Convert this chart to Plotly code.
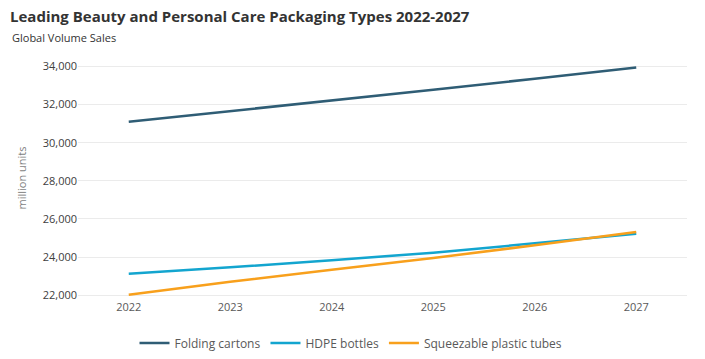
import plotly.graph_objects as go

years = ["2022", "2023", "2024", "2025", "2026", "2027"]
folding_cartons = [31100, 31650, 32200, 32780, 33360, 33950]
hdpe_bottles = [23120, 23460, 23840, 24230, 24720, 25230]
squeezable_tubes = [22020, 22700, 23330, 23950, 24620, 25320]
y_ticks = [22000, 24000, 26000, 28000, 30000, 32000, 34000]

series = [
    ("Folding cartons", folding_cartons, "#2f5d75"),
    ("HDPE bottles", hdpe_bottles, "#13a5cf"),
    ("Squeezable plastic tubes", squeezable_tubes, "#f8a01c"),
]

fig = go.Figure()
for name, vals, col in series:
    fig.add_trace(go.Scatter(x=years, y=vals, name=name, mode="lines",
                             line=dict(color=col, width=2.5)))

font = "Open Sans, Segoe UI, sans-serif"
fig.update_layout(
    width=705, height=359,
    margin=dict(l=78, r=18, t=57, b=60, autoexpand=False),
    plot_bgcolor="white", paper_bgcolor="white",
    font=dict(family=font, color="#595959", size=11),
    title=dict(text="<b>Leading Beauty and Personal Care Packaging Types 2022-2027</b>",
               x=10/705, xref="container", xanchor="left",
               y=1-17/359, yref="container", yanchor="middle", pad=dict(l=0, r=0, t=0, b=0),
               font=dict(size=15, color="#333333", family=font)),
    annotations=[dict(text="Global Volume Sales", xref="paper", yref="paper",
                      x=(10-78)/609, y=(299-38)/241.5, xanchor="left", yanchor="middle",
                      showarrow=False, font=dict(size=11, color="#333333", family=font))],
    xaxis=dict(type="category", range=[-0.5, 5.5], showgrid=False, showline=False,
               zeroline=False, ticks="", automargin=False,
               tickfont=dict(size=11, color="#595959")),
    yaxis=dict(range=[21800, 34500], tickvals=y_ticks, tickformat=",", showgrid=True,
               gridcolor="#ebebeb", gridwidth=1, zeroline=False, showline=False,
               ticks="", ticklen=0, automargin=False, tickfont=dict(size=11, color="#404040"),
               title=dict(text="million units", font=dict(size=11, color="#7f7f7f"), standoff=13)),
    legend=dict(orientation="h", xref="container", x=351/705, xanchor="center",
                yref="container", y=1-343/359,
                yanchor="middle", font=dict(size=12, color="#595959"), itemwidth=30,
                bgcolor="rgba(0,0,0,0)"),
    showlegend=True,
)
fig.write_html("out.html", config={"displayModeBar": False},
               post_script="document.body.style.margin='0';")
